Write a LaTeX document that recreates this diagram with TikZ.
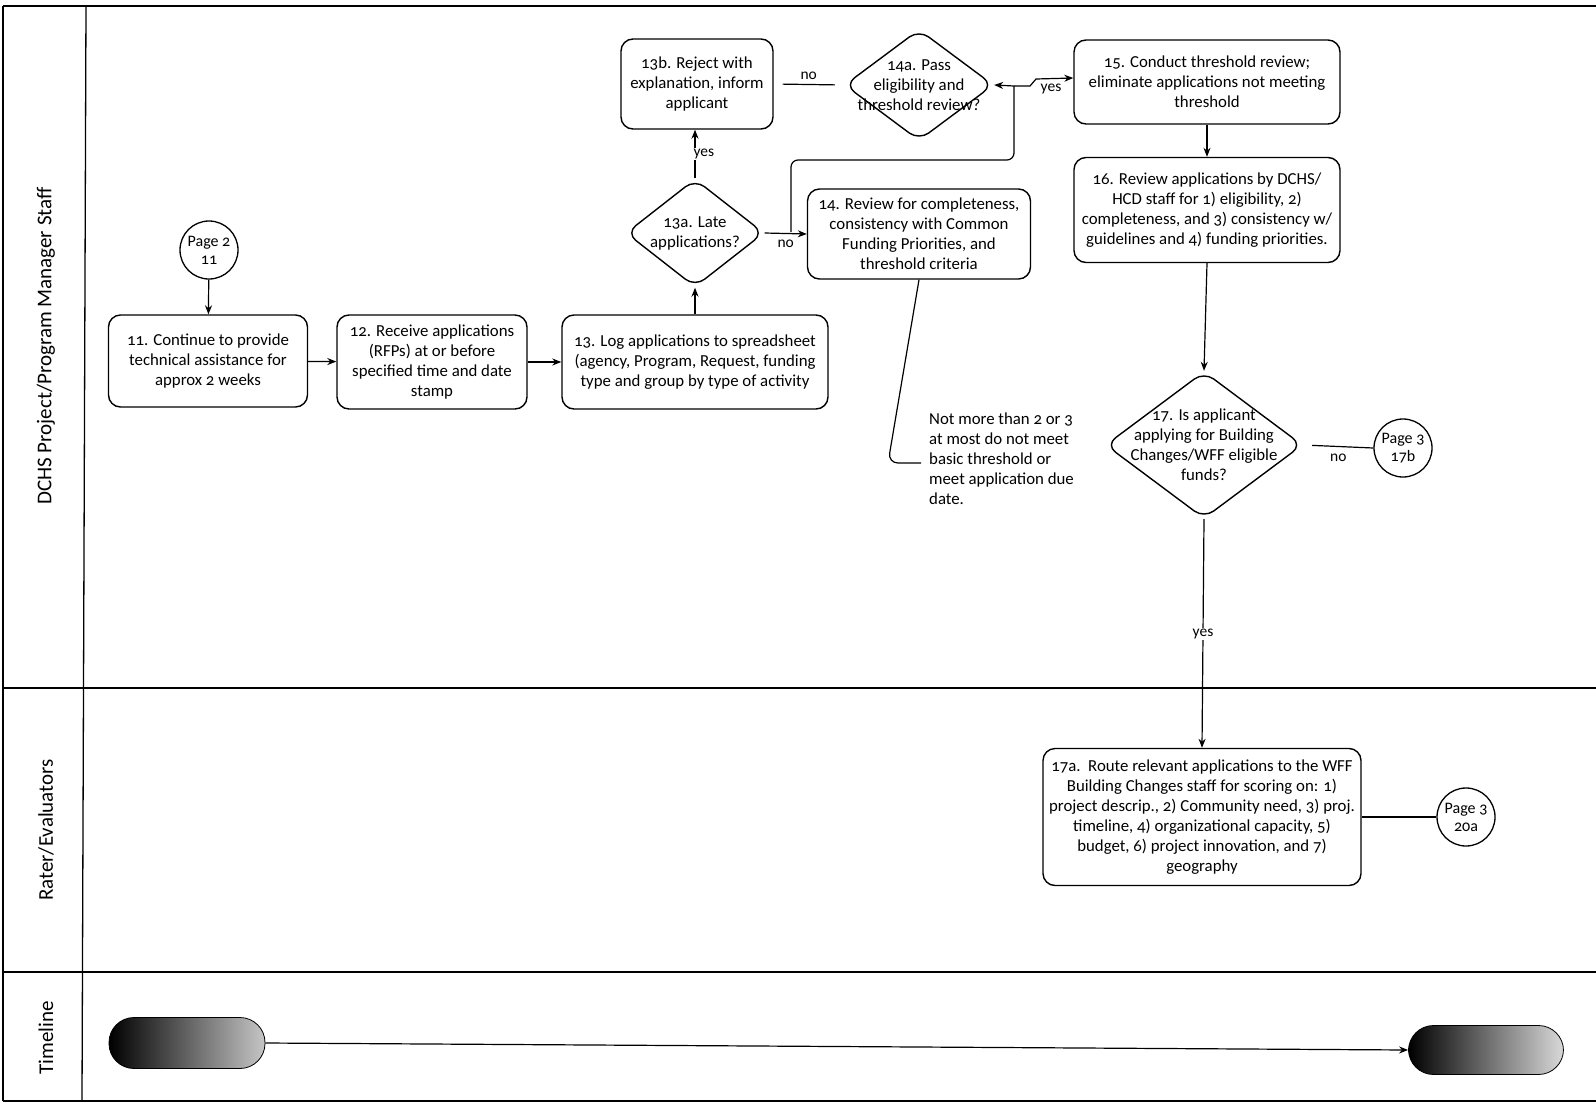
\documentclass[tikz,border=0pt]{standalone}
\usepackage{fontspec}
\setmainfont{Carlito}[Numbers=OldStyle]
\usetikzlibrary{arrows.meta,shapes.geometric,calc}
\begin{document}
\begin{tikzpicture}[x=1pt,y=-1pt,
  every node/.style={font=\fontsize{16.8}{20}\selectfont},
  box/.style={draw,line width=1.4pt,rounded corners=12pt,align=center,inner sep=0pt},
  dia/.style={diamond,draw,line width=1.4pt,rounded corners=12pt,inner sep=0pt,aspect=1},
  pagec/.style={circle,draw,line width=1.3pt,minimum size=58pt,inner sep=0pt,align=center,font=\fontsize{16}{18}\selectfont},
  arr/.style={line width=1.2pt,-{Stealth[length=9pt,width=7pt]}},
  conn/.style={line width=1.2pt},
  lbl/.style={fill=white,inner sep=1pt,font=\fontsize{15.5}{17}\selectfont},
  lane/.style={line width=1.3pt},
  lanetxt/.style={rotate=90,font=\fontsize{21}{24}\selectfont},
  pill/.style={rounded corners=25pt,draw=black,line width=0.8pt,shading=axis,left color=black,right color=gray!45,inner sep=0pt}
]
\useasboundingbox (0,0) rectangle (1596,1106);
% lanes
\draw[lane] (3,6) -- (1596,6);
\draw[lane] (3,1101) -- (1596,1101);
\draw[lane] (3,6) -- (3,1101);
\draw[lane] (86,6) -- (82,1101);
\draw[lane] (3,688) -- (1596,688);
\draw[lane] (3,972) -- (1596,972);
\node[lanetxt] (l1) at (46,346) {DCHS Project/Program Manager Staff};
\node[lanetxt] (l2) at (46,830) {Rater/Evaluators};
\node[lanetxt] (l3) at (46,1038) {Timeline};

% nodes
\node[pagec] (p2) at (209,250) {Page 2\\11};
\node[box,minimum width=199pt,minimum height=92pt] (b11) at (208,361) {11. Continue to provide\\technical assistance for\\approx 2 weeks};
\node[box,minimum width=190pt,minimum height=94pt] (b12) at (432,362) {12. Receive applications\\(RFPs) at or before\\specified time and date\\stamp};
\node[box,minimum width=266pt,minimum height=94pt] (b13) at (695,362) {13. Log applications to spreadsheet\\(agency, Program, Request, funding\\type and group by type of activity};
\node[dia,minimum width=138pt,minimum height=108pt] (d13a) at (695,233) {};
\node[align=center] (t13a) at (d13a) {13a. Late\\applications?};
\node[box,minimum width=152pt,minimum height=90pt] (b13b) at (697,84) {13b. Reject with\\explanation, inform\\applicant};
\node[dia,minimum width=149pt,minimum height=111pt] (d14a) at (919,85) {};
\node[align=center] (t14a) at (d14a) {14a. Pass\\eligibility and\\threshold review?};
\node[box,minimum width=223pt,minimum height=90pt] (b14) at (919,234) {14. Review for completeness,\\consistency with Common\\Funding Priorities, and\\threshold criteria};
\node[box,minimum width=266pt,minimum height=84pt] (b15) at (1207,82) {15. Conduct threshold review;\\eliminate applications not meeting\\threshold};
\node[box,minimum width=266pt,minimum height=105pt] (b16) at (1207,210) {16. Review applications by DCHS/\\HCD staff for 1) eligibility, 2)\\completeness, and 3) consistency w/\\guidelines and 4) funding priorities.};
\node[dia,minimum width=197pt,minimum height=147pt] (d17) at (1204,445) {};
\node[align=center] (t17) at (d17) {17. Is applicant\\applying for Building\\Changes/WFF eligible\\funds?};
\node[pagec] (p17b) at (1403,448) {Page 3\\17b};
\node[box,minimum width=318pt,minimum height=137pt] (b17a) at (1202,817) {17a.\ \ Route relevant applications to the WFF\\Building Changes staff for scoring on: 1)\\project descrip., 2) Community need, 3) proj.\\timeline, 4) organizational capacity, 5)\\budget, 6) project innovation, and 7)\\geography};
\node[pagec] (p20a) at (1466,817) {Page 3\\20a};
\node[align=left,anchor=north west,inner sep=0pt] (note) at (929,413) {Not more than 2 or 3\\at most do not meet\\basic threshold or\\meet application due\\date.};

% timeline
\node[pill,minimum width=156pt,minimum height=51pt] (tl1) at (187,1043) {};
\node[pill,minimum width=155pt,minimum height=49pt,right color=gray!30] (tl2) at (1486,1050) {};
\draw[arr] (tl1.east) -- (tl2.west);

% connectors
\draw[arr] (p2) -- (b11);
\draw[arr] (b11) -- (b12);
\draw[arr] (b12) -- (b13);
\draw[arr] (b13.north -| d13a.south) -- (d13a.south);
\draw[arr] (d13a.north) -- node[lbl,pos=0.5,anchor=west,xshift=-3pt] (ly1) {yes} (b13b.south -| d13a.north);
\draw[arr] (d13a.east) -- (b14.west) node[pos=0.5,below=3pt,font=\fontsize{15.5}{17}\selectfont] (ln1) {no};
\coordinate (lp) at (791,232);
\coordinate (jn) at (1014,86);
\draw[conn,rounded corners=7pt] (lp) -- (791,160) -- (1014,160) -- (jn);
\draw[arr] (jn) -- (d14a.east);
\draw[arr] (jn) -- (1030,86) -- (1036,79) -- ($(b15.west)+(0,-4)$);
\node[font=\fontsize{15.5}{17}\selectfont] (ly2) at (1051,89) {yes};
\draw[conn,shorten <=9pt,shorten >=9pt] (b13b.east) -- node[above=1pt,font=\fontsize{15.5}{17}\selectfont] (ln2) {no} (d14a.west);
\draw[arr] (b15) -- (b16);
\draw[arr] (b16.south) -- (d17.north);
\draw[conn,shorten <=9pt] (d17.east) -- (p17b.west) node[pos=0.5,below=4pt,font=\fontsize{15.5}{17}\selectfont] (ln3) {no};
\draw[arr] (d17.south) -- node[lbl,pos=0.5] (ly3) {yes} (b17a.north);
\draw[conn] (b17a.east) -- (p20a.west);
\coordinate (ne) at (921,463);
\draw[conn,rounded corners=10pt] (b14.south) -- (888,463) -- (ne);
\end{tikzpicture}
\end{document}
